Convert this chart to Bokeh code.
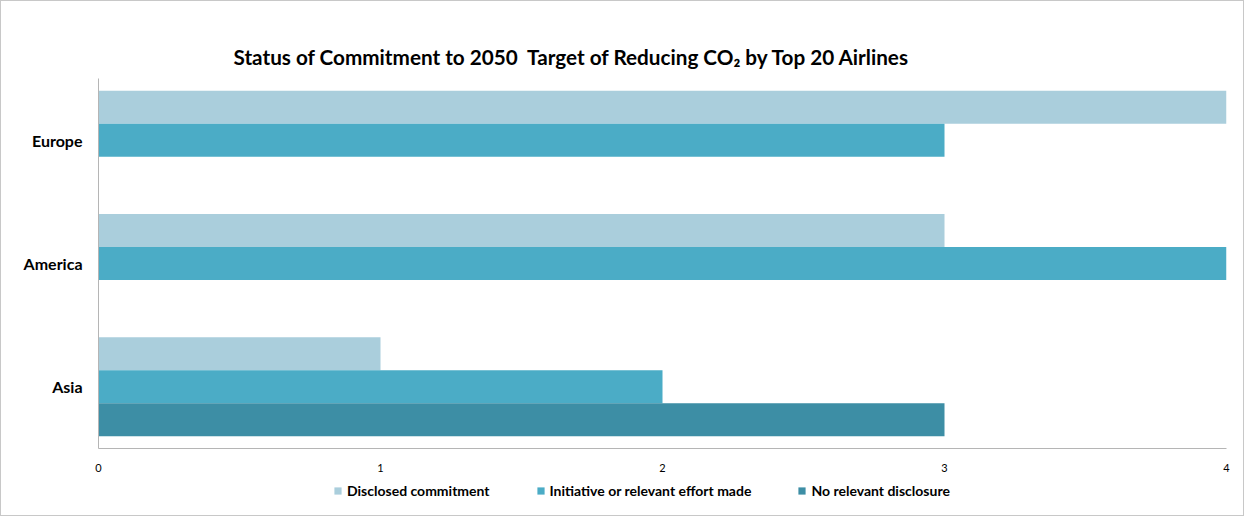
from bokeh.plotting import figure
from bokeh.layouts import column
from bokeh.models import FactorRange, Range1d, Legend, LegendItem, ColumnDataSource, FixedTicker
from bokeh.transform import dodge
from bokeh.embed import file_html
from bokeh.resources import INLINE

# ---- data ----
regions = ["Asia", "America", "Europe"]
series_names = ["Disclosed commitment", "Initiative or relevant effort made", "No relevant disclosure"]
disclosed = [1, 3, 4]
initiative = [2, 4, 3]
no_disclosure = [3, 0, 0]
x_ticks = [0, 1, 2, 3, 4]
title_text = "Status of Commitment to 2050\u00a0 Target of Reducing CO\u2082 by Top 20 Airlines"

# ---- style ----
colors = ["#aacedc", "#4bacc6", "#3d8ea5"]
FONT = "Lato"
AXIS_GRAY = "#b5b5b5"

src = ColumnDataSource(dict(region=regions, disclosed=disclosed,
                            initiative=initiative, none=no_disclosure))

p = figure(width=1242, height=475, output_backend="svg", toolbar_location=None,
           y_range=FactorRange(*regions, range_padding=0), x_range=Range1d(0, 4),
           min_border_left=97, min_border_right=17, min_border_top=77, min_border_bottom=28)

bh = 0.2676
p.hbar(y=dodge("region", bh, range=p.y_range), right="disclosed", height=bh,
       source=src, fill_color=colors[0], line_color=None)
p.hbar(y=dodge("region", 0, range=p.y_range), right="initiative", height=bh,
       source=src, fill_color=colors[1], line_color=None)
p.hbar(y=dodge("region", -bh, range=p.y_range), right="none", height=bh,
       source=src, fill_color=colors[2], line_color=None)

p.title.text = title_text
p.title.text_font = FONT
p.title.text_font_size = "20.7px"
p.title.text_font_style = "bold"
p.title.text_color = "#000000"
p.title.align = "left"
p.title.offset = 135
p.title.standoff = 19

p.xgrid.visible = False
p.ygrid.visible = False
p.outline_line_color = None

xa = p.xaxis[0]
xa.ticker = FixedTicker(ticks=x_ticks)
xa.major_tick_line_color = None
xa.minor_tick_line_color = None
xa.axis_line_color = AXIS_GRAY
xa.major_label_text_font = FONT
xa.major_label_text_font_size = "11px"
xa.major_label_text_color = "#000000"
xa.major_label_standoff = 9

ya = p.yaxis[0]
ya.major_tick_line_color = None
ya.minor_tick_line_color = None
ya.axis_line_color = AXIS_GRAY
ya.major_label_text_font = FONT
ya.major_label_text_font_size = "16px"
ya.major_label_text_font_style = "bold"
ya.major_label_text_color = "#000000"
ya.major_label_standoff = 10

# ---- legend strip ----
lf = figure(width=1242, height=39, output_backend="svg", toolbar_location=None,
            x_axis_location=None, y_axis_location=None,
            min_border_left=0, min_border_right=0, min_border_top=0, min_border_bottom=0)
lf.xgrid.visible = False
lf.ygrid.visible = False
lf.outline_line_color = None
lr = [lf.hbar(y=[0], left=[0], right=[0], height=1, fill_color=c, line_color=None)
      for c in colors]

legend = Legend(items=[LegendItem(label=series_names[i], renderers=[lr[i]]) for i in range(3)],
                orientation="horizontal", location=(235, 16),
                glyph_width=9, glyph_height=9, label_standoff=5, spacing=46,
                label_height=15, padding=0, margin=0,
                label_text_font=FONT, label_text_font_size="14px",
                label_text_font_style="bold", label_text_color="#000000",
                border_line_color=None, background_fill_alpha=0)
lf.add_layout(legend, "center")

layout = column(p, lf, spacing=0, styles={"border": "1px solid #c8c8c8"})

open("out.html", "w").write(file_html(layout, INLINE))
